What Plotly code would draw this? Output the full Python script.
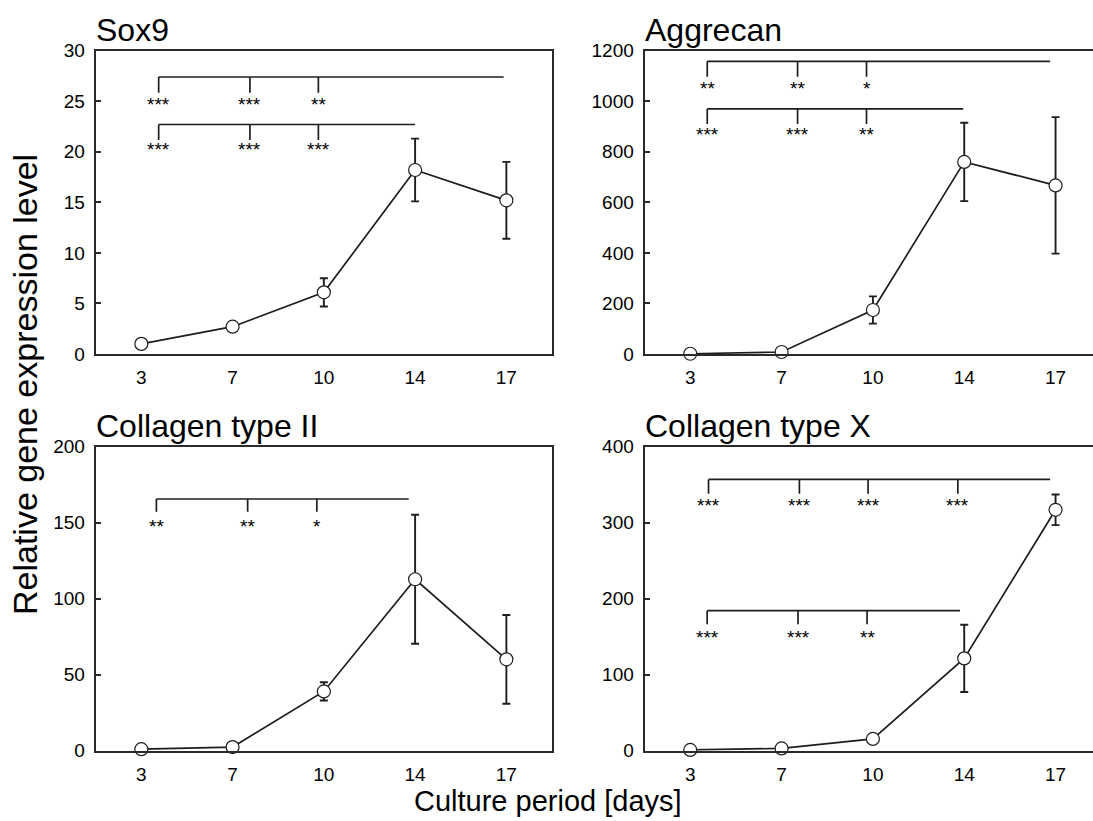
import plotly.graph_objects as go

# ---------------- data ----------------
days = ["3", "7", "10", "14", "17"]

sox9_mean = [1.0, 2.7, 6.1, 18.2, 15.2]
sox9_err = [0.1, 0.2, 1.4, 3.1, 3.8]

aggrecan_mean = [1, 8, 174, 760, 667]
aggrecan_err = [1, 3, 54, 155, 270]

col2_mean = [1.0, 2.4, 39, 112.8, 60.1]
col2_err = [0.5, 0.8, 6, 42.4, 29.2]

col10_mean = [1.0, 3.0, 15.5, 121.5, 317]
col10_err = [0.3, 1.0, 2.0, 44.3, 20.2]

panel_titles = ["Sox9", "Aggrecan", "Collagen type II", "Collagen type X"]
y_max = [30, 1200, 200, 400]
y_dtick = [5, 200, 50, 100]

# significance labels per bracket (comparison against the end day)
sox9_sig_17 = ["***", "***", "**"]
sox9_sig_14 = ["***", "***", "***"]
agg_sig_17 = ["**", "**", "*"]
agg_sig_14 = ["***", "***", "**"]
col2_sig_14 = ["**", "**", "*"]
col10_sig_17 = ["***", "***", "***", "***"]
col10_sig_14 = ["***", "***", "**"]

# ---------------- layout geometry ----------------
W, H = 1093, 821
left_dom = [95.7 / W, 552 / W]
right_dom = [644.6 / W, 1.0]
top_dom = [1 - 354 / H, 1 - 50.7 / H]
bot_dom = [1 - 750.7 / H, 1 - 446.7 / H]

INK = "#1e1e1e"
FONT = "Arial, Liberation Sans, Helvetica, sans-serif"

panels = [
    dict(mean=sox9_mean, err=sox9_err, xd=left_dom, yd=top_dom, xr=[-0.5, 4.5], right=False),
    dict(mean=aggrecan_mean, err=aggrecan_err, xd=right_dom, yd=top_dom, xr=[-0.5, 4.41], right=True),
    dict(mean=col2_mean, err=col2_err, xd=left_dom, yd=bot_dom, xr=[-0.5, 4.5], right=False),
    dict(mean=col10_mean, err=col10_err, xd=right_dom, yd=bot_dom, xr=[-0.5, 4.41], right=True),
]

# brackets: (panel index, line y, x start, x end, drop xs, drop bottom y, labels, label y)
brackets = [
    (0, 27.4, 0.19, 3.97, [0.19, 1.19, 1.94], 25.85, sox9_sig_17, 25.0),
    (0, 22.7, 0.19, 3.0, [0.19, 1.19, 1.94], 21.17, sox9_sig_14, 20.5),
    (1, 1158, 0.186, 3.94, [0.186, 1.175, 1.93], 1097, agg_sig_17, 1064),
    (1, 970, 0.186, 2.99, [0.186, 1.175, 1.93], 910, agg_sig_14, 880),
    (2, 165.6, 0.165, 2.93, [0.165, 1.165, 1.923], 157.2, col2_sig_14, 149.6),
    (3, 357, 0.2, 3.94, [0.2, 1.195, 1.947, 2.93], 338, col10_sig_17, 326.4),
    (3, 184.3, 0.185, 2.953, [0.185, 1.18, 1.936], 166.3, col10_sig_14, 153.4),
]

fig = go.Figure()
layout = dict(
    width=W, height=H,
    margin=dict(l=0, r=0, t=0, b=0, pad=0),
    paper_bgcolor="white", plot_bgcolor="white",
    showlegend=False,
    font=dict(family=FONT, color="black"),
)
annotations = []
shapes = []

for i, p in enumerate(panels):
    n = i + 1
    xa = "x" if n == 1 else f"x{n}"
    ya = "y" if n == 1 else f"y{n}"
    fig.add_trace(go.Scatter(
        x=days, y=p["mean"], xaxis=xa, yaxis=ya,
        mode="lines+markers",
        line=dict(color=INK, width=1.7),
        marker=dict(symbol="circle", size=13, color="white", line=dict(color=INK, width=1.2)),
        error_y=dict(type="data", array=p["err"], visible=True, color=INK, thickness=1.9, width=4),
        cliponaxis=False,
    ))
    layout["xaxis" if n == 1 else f"xaxis{n}"] = dict(
        domain=p["xd"], anchor=ya, type="category", range=p["xr"],
        showline=True, linecolor="#2a2a2a", linewidth=2, mirror=True,
        ticks="", showgrid=False, zeroline=False, automargin=False,
        tickfont=dict(size=19, family=FONT, color="black"),
        ticklabelstandoff=5,
    )
    layout["yaxis" if n == 1 else f"yaxis{n}"] = dict(
        domain=p["yd"], anchor=xa, range=[0, y_max[i]], dtick=y_dtick[i], tick0=0,
        showline=True, linecolor="#2a2a2a", linewidth=2, mirror=(not p["right"]),
        ticks="inside", ticklen=5, tickwidth=1.5, tickcolor="#2a2a2a",
        showgrid=False, zeroline=False, automargin=False,
        tickfont=dict(size=19, family=FONT, color="black"),
        ticklabelstandoff=5,
    )
    annotations.append(dict(
        text=panel_titles[i], xref="paper", yref="paper",
        x=p["xd"][0], y=p["yd"][1], xanchor="left", yanchor="bottom",
        showarrow=False, font=dict(size=32, family=FONT, color="black"),
        xshift=-2, yshift=1,
    ))

for (pi, yl, x0, x1, drops, yd, labels, ylab) in brackets:
    n = pi + 1
    xr = "x" if n == 1 else f"x{n}"
    yr = "y" if n == 1 else f"y{n}"
    shapes.append(dict(type="line", xref=xr, yref=yr, x0=x0, x1=x1, y0=yl, y1=yl,
                       line=dict(color=INK, width=1.7)))
    for dx, lab in zip(drops, labels):
        shapes.append(dict(type="line", xref=xr, yref=yr, x0=dx, x1=dx, y0=yl, y1=yd,
                           line=dict(color=INK, width=1.7)))
        annotations.append(dict(
            text=lab, xref=xr, yref=yr, x=dx, y=ylab, xanchor="center", yanchor="middle",
            showarrow=False, font=dict(size=19, family=FONT, color="black"), yshift=-3,
        ))

annotations.append(dict(
    text="Relative gene expression level", xref="paper", yref="paper",
    x=25 / W, y=1 - 385 / H, xanchor="center", yanchor="middle", textangle=-90,
    showarrow=False, font=dict(size=34, family=FONT, color="black"),
))
annotations.append(dict(
    text="Culture period [days]", xref="paper", yref="paper",
    x=548 / W, y=1 - 801 / H, xanchor="center", yanchor="middle",
    showarrow=False, font=dict(size=29, family=FONT, color="black"),
))

layout["annotations"] = annotations
layout["shapes"] = shapes
fig.update_layout(**layout)
fig.write_html("out.html")
